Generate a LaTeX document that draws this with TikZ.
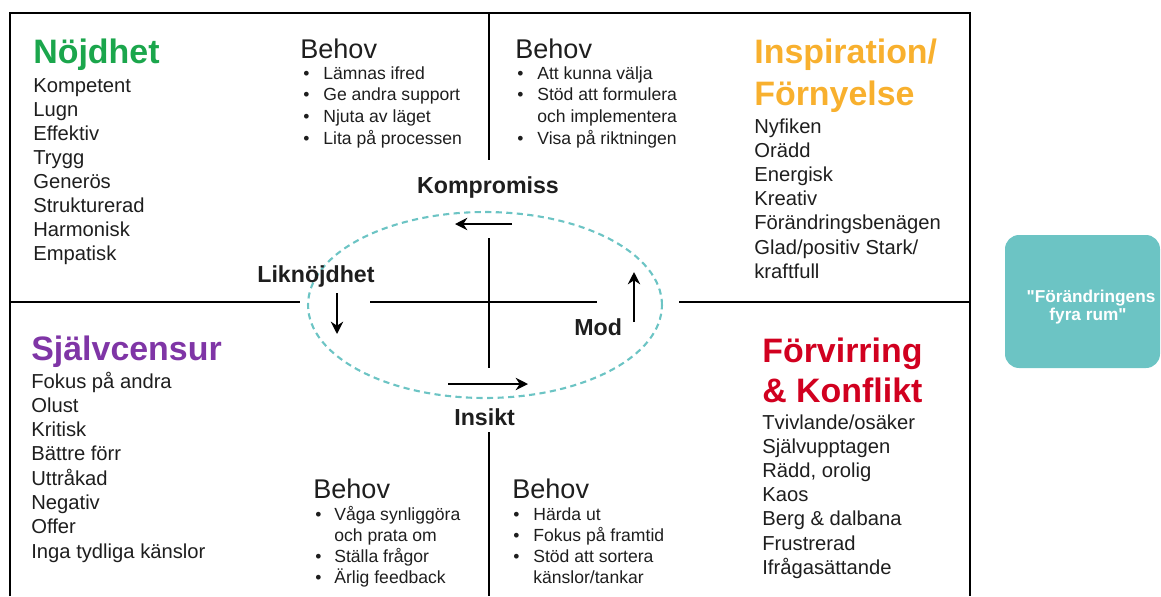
\documentclass[tikz,border=0pt]{standalone}
\usepackage{fontspec}
\setmainfont{Liberation Sans}
\newfontfamily\rumfont{Liberation Sans}
\usetikzlibrary{arrows.meta}
\definecolor{ink}{HTML}{1E1E1E}
\definecolor{nojdgreen}{HTML}{1BA64C}
\definecolor{insporange}{HTML}{F8B02E}
\definecolor{censpurple}{HTML}{7F35A6}
\definecolor{forvred}{HTML}{D1001F}
\definecolor{rumteal}{HTML}{6CC4C4}
\tikzset{
  every node/.style={inner sep=0pt, text=ink},
  rubrik/.style={font=\fontsize{19.3}{24}\selectfont\bfseries, anchor=base west},
  ord/.style={font=\fontsize{11.5}{13.7}\selectfont, anchor=base west},
  behov/.style={font=\fontsize{15.4}{18}\selectfont, anchor=base west},
  punkt/.style={font=\fontsize{10}{12}\selectfont, anchor=base west},
  vagord/.style={font=\fontsize{13.2}{15}\selectfont\bfseries, anchor=base},
  rumtext/.style={font=\rumfont\fontsize{9.8}{11}\selectfont\bfseries, text=white, anchor=base},
  rumlinje/.style={line width=1.5pt},
  pil/.style={line width=1.6pt, -{Stealth[length=7pt,width=7pt]}},
}
\begin{document}
\begin{tikzpicture}[x=0.02cm, y=-0.02cm]
\useasboundingbox (0,0) rectangle (1161,596);

% the four rooms
\draw[rumlinje] (10,596) -- (10,13) -- (970,13) -- (970,596);
\draw[rumlinje] (489,13) -- (489,160) (489,238) -- (489,368) (489,432) -- (489,596);
\draw[rumlinje] (10,302) -- (300,302) (370,302) -- (597,302) (679,302) -- (970,302);

% the cycle
\draw[rumteal, line width=1.2pt, dash pattern=on 3.5pt off 2.5pt] (485,305) ellipse [x radius=3.54cm, y radius=1.86cm];
\coordinate (komp-a) at (512,224); \coordinate (komp-b) at (455,224);
\coordinate (likn-a) at (337,293); \coordinate (likn-b) at (337,334);
\coordinate (insi-a) at (448,384); \coordinate (insi-b) at (528,384);
\coordinate (mod-a) at (634,322);  \coordinate (mod-b) at (634,272);
\draw[pil] (komp-a) -- (komp-b);
\draw[pil] (likn-a) -- (likn-b);
\draw[pil] (insi-a) -- (insi-b);
\draw[pil] (mod-a) -- (mod-b);
\node[vagord] (komp) at (488,193) {Kompromiss};
\node[vagord, anchor=base west] (likn) at (257,282) {Liknöjdhet};
\node[vagord, anchor=base west] (mod) at (574,335) {Mod};
\node[vagord, anchor=base west] (insi) at (454,425) {Insikt};

% Nöjdhet
\node[rubrik, text=nojdgreen] (nojd) at (33,63) {Nöjdhet};
\foreach \t [count=\i from 0] in {Kompetent, Lugn, Effektiv, Trygg, Generös, Strukturerad, Harmonisk, Empatisk}
  \node[ord] (nojd-\i) at (33,92+24*\i) {\t};
\node[behov] (nojd-behov) at (300,58) {Behov};
\foreach \t [count=\i from 0] in {Lämnas ifred, Ge andra support, Njuta av läget, Lita på processen}
  \node[punkt] (nojd-b\i) at (323,79+21.7*\i) {\t};
\foreach \i in {0,1,2,3}
  \node[punkt] (nojd-p\i) at (303,79+21.7*\i) {\textbullet};

% Inspiration/Förnyelse
\node[rubrik, text=insporange] (insp) at (754,63) {Inspiration/};
\node[rubrik, text=insporange] (insp-2) at (754,105) {Förnyelse};
\foreach \t [count=\i from 0] in {Nyfiken, Orädd, Energisk, Kreativ, Förändringsbenägen, Glad/positiv Stark/, kraftfull}
  \node[ord] (insp-\i) at (754,133+24.2*\i) {\t};
\node[behov] (insp-behov) at (515,58) {Behov};
\foreach \t [count=\i from 0] in {Att kunna välja, Stöd att formulera, och implementera, Visa på riktningen}
  \node[punkt] (insp-b\i) at (537,79+21.7*\i) {\t};
\foreach \i in {0,1,3}
  \node[punkt] (insp-p\i) at (517,79+21.7*\i) {\textbullet};

% Självcensur
\node[rubrik, text=censpurple] (cens) at (31,360) {Självcensur};
\foreach \t [count=\i from 0] in {Fokus på andra, Olust, Kritisk, Bättre förr, Uttråkad, Negativ, Offer, Inga tydliga känslor}
  \node[ord] (cens-\i) at (31,388+24.3*\i) {\t};
\node[behov] (cens-behov) at (313,498) {Behov};
\foreach \t [count=\i from 0] in {Våga synliggöra, och prata om, Ställa frågor, Ärlig feedback}
  \node[punkt] (cens-b\i) at (334,520+21*\i) {\t};
\foreach \i in {0,2,3}
  \node[punkt] (cens-p\i) at (315,520+21*\i) {\textbullet};

% Förvirring & Konflikt
\node[rubrik, text=forvred] (forv) at (762,362) {Förvirring};
\node[rubrik, text=forvred] (forv-2) at (762,402) {\& Konflikt};
\foreach \t [count=\i from 0] in {Tvivlande/osäker, Självupptagen, {Rädd, orolig}, Kaos, Berg \& dalbana, Frustrerad, Ifrågasättande}
  \node[ord] (forv-\i) at (762,429+24.2*\i) {\t};
\node[behov] (forv-behov) at (512,498) {Behov};
\foreach \t [count=\i from 0] in {Härda ut, Fokus på framtid, Stöd att sortera, känslor/tankar}
  \node[punkt] (forv-b\i) at (533,520+21*\i) {\t};
\foreach \i in {0,1,2}
  \node[punkt] (forv-p\i) at (513,520+21*\i) {\textbullet};

% caption box
\fill[rumteal, rounded corners=8pt] (1005,235) rectangle (1160,368);
\node[rumtext] (rum-1) at (1091,302) {"Förändringens};
\node[rumtext] (rum-2) at (1088,320) {fyra rum"};
\end{tikzpicture}
\end{document}
